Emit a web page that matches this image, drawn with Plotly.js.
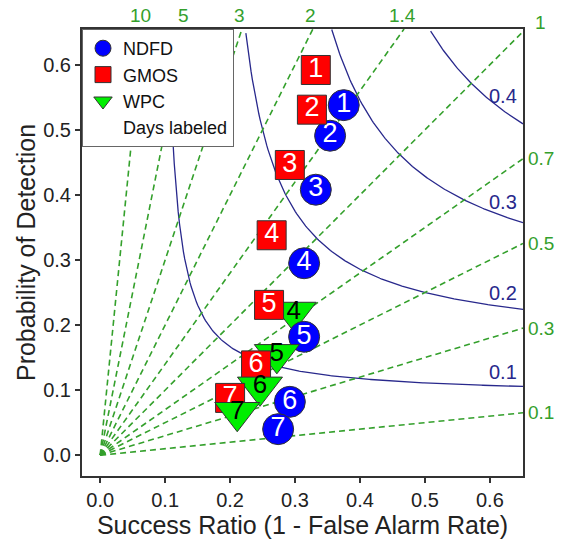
<!DOCTYPE html>
<html>
<head>
<meta charset="utf-8">
<script src="https://cdn.plot.ly/plotly-3.0.1.min.js"></script>
<style>html,body{margin:0;padding:0;background:#fff;}#chart{width:575px;height:541px;}</style>
</head>
<body>
<div id="chart"></div>
<script>
// ---- data ----
const days = ["1", "2", "3", "4", "5", "6", "7"];
const ndfdSR  = [0.375, 0.354, 0.332, 0.314, 0.314, 0.292, 0.274];
const ndfdPOD = [0.538, 0.491, 0.408, 0.295, 0.182, 0.082, 0.040];
const gmosSR  = [0.332, 0.326, 0.292, 0.264, 0.260, 0.240, 0.200];
const gmosPOD = [0.592, 0.531, 0.446, 0.338, 0.231, 0.138, 0.088];
const wpcDays = ["4", "5", "6", "7"];
const wpcSR   = [0.298, 0.272, 0.246, 0.211];
const wpcPOD  = [0.220, 0.155, 0.105, 0.066];
const csiLevels  = [0.1, 0.2, 0.3, 0.4];
const biasLevels = [10, 5, 3, 2, 1.4, 1, 0.7, 0.5, 0.3, 0.1];
const biasLabels = ["10", "5", "3", "2", "1.4", "1", "0.7", "0.5", "0.3", "0.1"];
const xTicks = [0, 0.1, 0.2, 0.3, 0.4, 0.5, 0.6];
const yTicks = [0, 0.1, 0.2, 0.3, 0.4, 0.5, 0.6];

const XR = [-0.028, 0.651];
const YR = [-0.032, 0.655];
const FONT = "Arial, 'Liberation Sans', sans-serif";
const GREEN = "rgb(52,160,44)";
const NAVY = "rgb(40,40,140)";

const traces = [];
const annotations = [];

// CSI curves
csiLevels.forEach(c => {
  const xs = [], ys = [];
  const n = 300;
  for (let i = 0; i <= n; i++) {
    const sr = 0.05 + (XR[1] - 0.05) * i / n;
    const inv = 1 / c + 1 - 1 / sr;
    if (inv <= 0) continue;
    const pod = 1 / inv;
    if (pod > YR[1] || pod < 0) continue;
    xs.push(sr); ys.push(pod);
  }
  traces.push({x: xs, y: ys, mode: 'lines', line: {color: NAVY, width: 1.3},
               hoverinfo: 'skip', showlegend: false});
  const lx = 0.62;
  const ly = 1 / (1 / c + 1 - 1 / lx);
  annotations.push({x: lx, y: ly, text: String(c), showarrow: false,
    xanchor: 'center', yanchor: 'bottom', yshift: 1,
    font: {family: FONT, size: 20, color: NAVY}});
});

// Bias lines
biasLevels.forEach((b, i) => {
  let ex, ey;
  if (b * XR[1] <= YR[1]) { ex = XR[1]; ey = b * XR[1]; }
  else { ey = YR[1]; ex = YR[1] / b; }
  traces.push({x: [0, ex], y: [0, ey], mode: 'lines',
               line: {color: GREEN, width: 1.6, dash: '6px,4px'},
               hoverinfo: 'skip', showlegend: false});
  if (b >= 1) {
    const atCorner = ex >= XR[1] - 1e-6;
    annotations.push({x: ex, y: YR[1], text: biasLabels[i], showarrow: false,
      xanchor: atCorner ? 'left' : 'center', yanchor: 'bottom',
      xshift: atCorner ? 10 : -2, yshift: atCorner ? -6 : 1,
      font: {family: FONT, size: 19, color: GREEN}});
  } else {
    annotations.push({x: XR[1], y: ey, text: biasLabels[i], showarrow: false,
      xanchor: 'left', yanchor: 'middle', xshift: 3,
      font: {family: FONT, size: 19, color: GREEN}});
  }
});

// Markers, layered day by day
const mk = {
  ndfd: {symbol: 'circle', size: 31, color: '#0000ff', line: {color: '#333', width: 1}},
  gmos: {symbol: 'square', size: 29, color: '#ff0000', line: {color: '#333', width: 1}},
  wpc:  {symbol: 'triangle-down', size: 39, color: '#00ee00', line: {color: '#333', width: 1}}
};
days.forEach((d, i) => {
  traces.push({x: [ndfdSR[i]], y: [ndfdPOD[i]], text: [d], mode: 'markers+text',
    textposition: 'middle center', marker: mk.ndfd, cliponaxis: false,
    textfont: {family: FONT, size: 27, color: '#fff'}, showlegend: false, hoverinfo: 'x+y'});
  traces.push({x: [gmosSR[i]], y: [gmosPOD[i]], text: [d], mode: 'markers+text',
    textposition: 'middle center', marker: mk.gmos, cliponaxis: false,
    textfont: {family: FONT, size: 27, color: '#fff'}, showlegend: false, hoverinfo: 'x+y'});
  const j = wpcDays.indexOf(d);
  if (j >= 0) {
    traces.push({x: [wpcSR[j]], y: [wpcPOD[j]], text: [d], mode: 'markers+text',
      textposition: 'middle center', marker: mk.wpc, cliponaxis: false,
      textfont: {family: FONT, size: 26, color: '#000'}, showlegend: false, hoverinfo: 'x+y'});
  }
});

// Legend entries
traces.push({x: [null], y: [null], mode: 'markers', name: 'NDFD', marker: mk.ndfd});
traces.push({x: [null], y: [null], mode: 'markers', name: 'GMOS', marker: mk.gmos});
traces.push({x: [null], y: [null], mode: 'markers', name: 'WPC', marker: mk.wpc});
traces.push({x: [null], y: [null], mode: 'markers', name: 'Days labeled',
             marker: {color: 'rgba(0,0,0,0)', size: 1, line: {width: 0, color: 'rgba(0,0,0,0)'}}});

const axisCommon = {
  showgrid: false, zeroline: false, showline: true, mirror: true,
  linecolor: '#333', linewidth: 2, ticks: 'outside', ticklen: 5, tickwidth: 1.5,
  tickcolor: '#333', tickfont: {family: FONT, size: 20, color: '#222'}
};

const layout = {
  width: 575, height: 541,
  margin: {l: 82, r: 52, t: 29, b: 65},
  paper_bgcolor: '#fff', plot_bgcolor: '#fff',
  font: {family: FONT},
  xaxis: Object.assign({}, axisCommon, {
    range: XR, tickvals: xTicks, ticktext: xTicks.map(v => v.toFixed(1)),
    title: {text: 'Success Ratio (1 - False Alarm Rate)', standoff: 4,
            font: {family: FONT, size: 25, color: '#222'}}
  }),
  yaxis: Object.assign({}, axisCommon, {
    range: YR, tickvals: yTicks, ticktext: yTicks.map(v => v.toFixed(1)),
    title: {text: 'Probability of Detection', standoff: 0,
            font: {family: FONT, size: 25, color: '#222'}}
  }),
  showlegend: true,
  legend: {x: 0, y: 1, xanchor: 'left', yanchor: 'top', bgcolor: '#fff',
           bordercolor: '#666', borderwidth: 1, font: {family: FONT, size: 18, color: '#111'},
           traceorder: 'normal', itemwidth: 30},
  annotations: annotations
};

Plotly.newPlot('chart', traces, layout, {displayModeBar: false, staticPlot: true});
</script>
</body>
</html>
